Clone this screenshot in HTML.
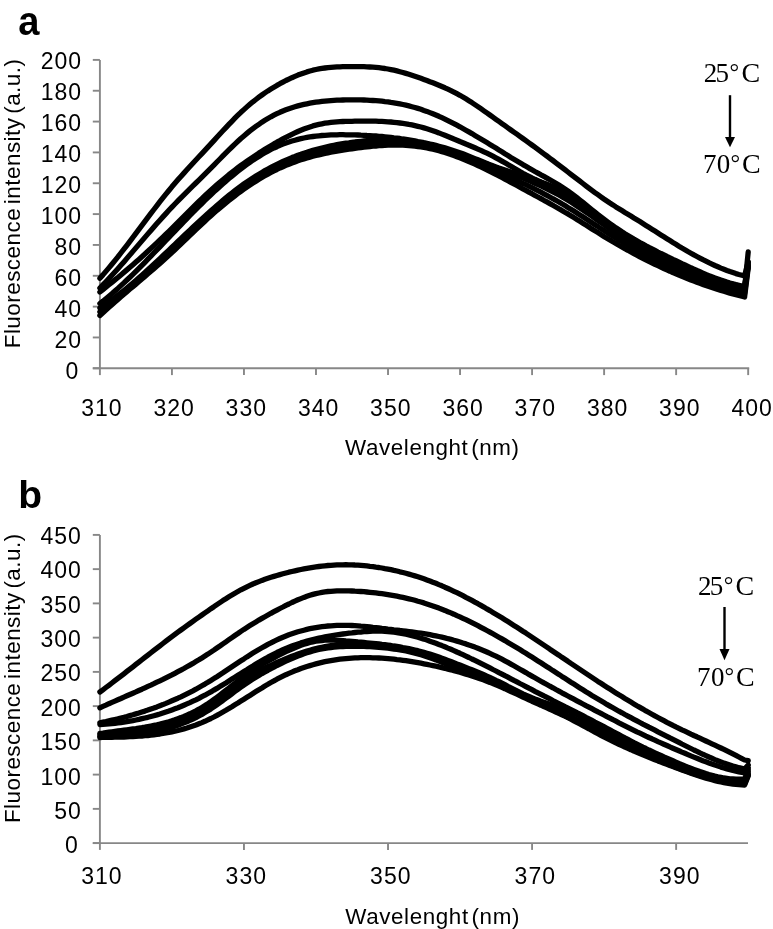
<!DOCTYPE html><html><head><meta charset="utf-8"><style>html,body{margin:0;padding:0;background:#fff;}svg{display:block;will-change:transform}.t{font-family:'Liberation Sans',sans-serif;font-size:23px;letter-spacing:1px;fill:#000}.ti{font-family:'Liberation Sans',sans-serif;font-size:23px;fill:#000}.tx{font-family:'Liberation Sans',sans-serif;font-size:22.4px;letter-spacing:0.6px;word-spacing:-4px;fill:#000}.ty{font-family:'Liberation Sans',sans-serif;font-size:22.4px;letter-spacing:0.5px;word-spacing:-3px;fill:#000}.s{font-family:'Liberation Serif',serif;font-size:27px;fill:#000}.lab{font-family:'Liberation Sans',sans-serif;font-weight:bold;font-size:39px;fill:#000}</style></head><body>
<svg width="773" height="929" viewBox="0 0 773 929">
<rect width="773" height="929" fill="#fff"/>
<text transform="translate(18.3,35) scale(0.93,1)" x="0" y="0" class="lab" style="font-size:41px">a</text>
<line x1="99.9" y1="59.9" x2="99.9" y2="368.3" stroke="#878787" stroke-width="1.9"/>
<line x1="92.8" y1="368.30" x2="99.9" y2="368.30" stroke="#878787" stroke-width="1.9"/>
<line x1="92.8" y1="337.46" x2="99.9" y2="337.46" stroke="#878787" stroke-width="1.9"/>
<line x1="92.8" y1="306.62" x2="99.9" y2="306.62" stroke="#878787" stroke-width="1.9"/>
<line x1="92.8" y1="275.78" x2="99.9" y2="275.78" stroke="#878787" stroke-width="1.9"/>
<line x1="92.8" y1="244.94" x2="99.9" y2="244.94" stroke="#878787" stroke-width="1.9"/>
<line x1="92.8" y1="214.10" x2="99.9" y2="214.10" stroke="#878787" stroke-width="1.9"/>
<line x1="92.8" y1="183.26" x2="99.9" y2="183.26" stroke="#878787" stroke-width="1.9"/>
<line x1="92.8" y1="152.42" x2="99.9" y2="152.42" stroke="#878787" stroke-width="1.9"/>
<line x1="92.8" y1="121.58" x2="99.9" y2="121.58" stroke="#878787" stroke-width="1.9"/>
<line x1="92.8" y1="90.74" x2="99.9" y2="90.74" stroke="#878787" stroke-width="1.9"/>
<line x1="92.8" y1="59.90" x2="99.9" y2="59.90" stroke="#878787" stroke-width="1.9"/>
<line x1="92.8" y1="368.3" x2="749.2" y2="368.3" stroke="#878787" stroke-width="1.9"/>
<line x1="99.90" y1="368.3" x2="99.90" y2="375.10" stroke="#878787" stroke-width="1.9"/>
<line x1="171.93" y1="368.3" x2="171.93" y2="375.10" stroke="#878787" stroke-width="1.9"/>
<line x1="243.96" y1="368.3" x2="243.96" y2="375.10" stroke="#878787" stroke-width="1.9"/>
<line x1="315.99" y1="368.3" x2="315.99" y2="375.10" stroke="#878787" stroke-width="1.9"/>
<line x1="388.02" y1="368.3" x2="388.02" y2="375.10" stroke="#878787" stroke-width="1.9"/>
<line x1="460.05" y1="368.3" x2="460.05" y2="375.10" stroke="#878787" stroke-width="1.9"/>
<line x1="532.08" y1="368.3" x2="532.08" y2="375.10" stroke="#878787" stroke-width="1.9"/>
<line x1="604.11" y1="368.3" x2="604.11" y2="375.10" stroke="#878787" stroke-width="1.9"/>
<line x1="676.14" y1="368.3" x2="676.14" y2="375.10" stroke="#878787" stroke-width="1.9"/>
<line x1="748.17" y1="368.3" x2="748.17" y2="375.10" stroke="#878787" stroke-width="1.9"/>
<text x="79.19999999999999" y="378.6" text-anchor="end" class="t">0</text>
<text x="82.1" y="347.6" text-anchor="end" class="t">20</text>
<text x="82.1" y="316.6" text-anchor="end" class="t">40</text>
<text x="82.1" y="285.7" text-anchor="end" class="t">60</text>
<text x="82.1" y="254.7" text-anchor="end" class="t">80</text>
<text x="82.1" y="223.7" text-anchor="end" class="t">100</text>
<text x="82.1" y="192.7" text-anchor="end" class="t">120</text>
<text x="82.1" y="161.7" text-anchor="end" class="t">140</text>
<text x="82.1" y="130.8" text-anchor="end" class="t">160</text>
<text x="82.1" y="99.8" text-anchor="end" class="t">180</text>
<text x="82.1" y="68.8" text-anchor="end" class="t">200</text>
<text x="101.9" y="415.5" text-anchor="middle" class="t">310</text>
<text x="174.1" y="415.5" text-anchor="middle" class="t">320</text>
<text x="246.3" y="415.5" text-anchor="middle" class="t">330</text>
<text x="318.6" y="415.5" text-anchor="middle" class="t">340</text>
<text x="390.8" y="415.5" text-anchor="middle" class="t">350</text>
<text x="463.1" y="415.5" text-anchor="middle" class="t">360</text>
<text x="535.3" y="415.5" text-anchor="middle" class="t">370</text>
<text x="607.6" y="415.5" text-anchor="middle" class="t">380</text>
<text x="679.8" y="415.5" text-anchor="middle" class="t">390</text>
<text x="752.1" y="415.5" text-anchor="middle" class="t">400</text>
<text x="345" y="454.8" class="tx">Wavelenght (nm)</text>
<text transform="translate(19.8,348.3) rotate(-90)" x="0" y="0" class="ty">Fluorescence intensity (a.u.)</text>
<text x="703.8" y="81.5" style="font-family:'Liberation Serif',serif;font-size:27px">2</text>
<text x="715.6" y="81.5" style="font-family:'Liberation Serif',serif;font-size:27px">5</text>
<text x="729.6" y="79.5" style="font-family:'Liberation Serif',serif;font-size:24px">°</text>
<text x="741.4" y="81.6" style="font-family:'Liberation Serif',serif;font-size:28px">C</text>
<text x="703.0" y="173.0" style="font-family:'Liberation Serif',serif;font-size:27px">7</text>
<text x="716.8" y="173.0" style="font-family:'Liberation Serif',serif;font-size:27px">0</text>
<text x="730.5" y="171.2" style="font-family:'Liberation Serif',serif;font-size:24px">°</text>
<text x="742.0" y="173.0" style="font-family:'Liberation Serif',serif;font-size:28px">C</text>
<line x1="730" y1="95.2" x2="730" y2="139" stroke="#000" stroke-width="2.4"/>
<path d="M725 137 L735 137 L730 147.3 Z" fill="#000"/>
<g fill="none" stroke="#000" stroke-width="5.3" stroke-linecap="round" stroke-linejoin="round">
<path d="M99.9 278.2 L102.9 274.9 L105.9 271.4 L108.9 267.9 L111.9 264.3 L114.9 260.6 L117.9 256.9 L120.9 253.0 L123.9 249.2 L126.9 245.3 L129.9 241.3 L132.9 237.4 L135.9 233.4 L138.9 229.4 L141.9 225.4 L144.9 221.4 L147.9 217.4 L150.9 213.4 L153.9 209.5 L156.9 205.6 L159.9 201.7 L162.9 197.9 L165.9 194.2 L168.9 190.5 L171.9 186.8 L174.9 183.3 L177.9 179.8 L180.9 176.4 L183.9 173.1 L186.9 169.8 L189.9 166.5 L192.9 163.2 L195.9 160.0 L198.9 156.8 L201.9 153.6 L204.9 150.4 L207.9 147.1 L210.9 143.9 L213.9 140.6 L216.9 137.3 L219.9 134.0 L222.9 130.8 L225.9 127.6 L228.9 124.4 L231.9 121.3 L234.9 118.2 L237.9 115.2 L240.9 112.3 L243.9 109.6 L246.9 106.9 L249.9 104.3 L252.9 101.8 L255.9 99.5 L258.9 97.2 L261.9 95.0 L264.9 92.9 L267.9 90.9 L270.9 89.0 L273.9 87.2 L276.9 85.4 L279.9 83.7 L282.9 82.1 L285.9 80.5 L288.9 79.1 L291.9 77.7 L294.9 76.4 L297.9 75.1 L300.9 74.0 L303.9 72.9 L306.9 71.9 L309.9 71.0 L312.9 70.2 L315.9 69.5 L318.9 68.9 L321.9 68.4 L324.9 68.0 L327.9 67.6 L330.9 67.3 L333.9 67.1 L336.9 66.9 L339.9 66.8 L342.9 66.7 L345.9 66.6 L348.9 66.6 L351.9 66.6 L354.9 66.6 L357.9 66.6 L360.9 66.7 L363.9 66.7 L366.9 66.8 L369.9 67.0 L372.9 67.2 L375.9 67.4 L378.9 67.7 L381.9 68.1 L384.9 68.5 L387.9 69.0 L390.9 69.6 L393.9 70.2 L396.9 70.9 L399.9 71.7 L402.9 72.5 L405.9 73.4 L408.9 74.3 L411.9 75.3 L414.9 76.3 L417.9 77.3 L420.9 78.3 L423.9 79.4 L426.9 80.5 L429.9 81.7 L432.9 82.8 L435.9 84.0 L438.9 85.2 L441.9 86.5 L444.9 87.8 L447.9 89.2 L450.9 90.6 L453.9 92.1 L456.9 93.7 L459.9 95.3 L462.9 97.0 L465.9 98.8 L468.9 100.7 L471.9 102.6 L474.9 104.6 L477.9 106.6 L480.9 108.7 L483.9 110.8 L486.9 112.9 L489.9 115.0 L492.9 117.1 L495.9 119.3 L498.9 121.4 L501.9 123.6 L504.9 125.7 L507.9 127.8 L510.9 130.0 L513.9 132.1 L516.9 134.2 L519.9 136.4 L522.9 138.5 L525.9 140.7 L528.9 142.8 L531.9 145.0 L534.9 147.2 L537.9 149.4 L540.9 151.6 L543.9 153.8 L546.9 156.0 L549.9 158.3 L552.9 160.5 L555.9 162.8 L558.9 165.1 L561.9 167.4 L564.9 169.7 L567.9 172.0 L570.9 174.3 L573.9 176.6 L576.9 178.9 L579.9 181.2 L582.9 183.5 L585.9 185.8 L588.9 188.1 L591.9 190.3 L594.9 192.6 L597.9 194.7 L600.9 196.9 L603.9 199.0 L606.9 201.0 L609.9 203.0 L612.9 204.9 L615.9 206.9 L618.9 208.7 L621.9 210.6 L624.9 212.5 L627.9 214.3 L630.9 216.1 L633.9 218.0 L636.9 219.8 L639.9 221.6 L642.9 223.5 L645.9 225.4 L648.9 227.3 L651.9 229.2 L654.9 231.1 L657.9 233.0 L660.9 234.9 L663.9 236.8 L666.9 238.7 L669.9 240.6 L672.9 242.5 L675.9 244.3 L678.9 246.2 L681.9 248.0 L684.9 249.7 L687.9 251.5 L690.9 253.2 L693.9 254.9 L696.9 256.5 L699.9 258.1 L702.9 259.7 L705.9 261.2 L708.9 262.7 L711.9 264.1 L714.9 265.5 L717.9 266.8 L720.9 268.1 L723.9 269.3 L726.9 270.5 L729.9 271.6 L732.9 272.6 L735.9 273.6 L738.9 274.5 L741.9 275.3 L744.6 276.0 L748.2 262.0"/>
<path d="M99.9 288.0 L102.9 284.9 L105.9 281.8 L108.9 278.6 L111.9 275.3 L114.9 272.0 L117.9 268.7 L120.9 265.3 L123.9 261.9 L126.9 258.4 L129.9 254.9 L132.9 251.4 L135.9 247.9 L138.9 244.4 L141.9 240.9 L144.9 237.4 L147.9 233.9 L150.9 230.5 L153.9 227.0 L156.9 223.6 L159.9 220.2 L162.9 216.9 L165.9 213.6 L168.9 210.3 L171.9 207.1 L174.9 204.0 L177.9 200.9 L180.9 197.8 L183.9 194.8 L186.9 191.8 L189.9 188.9 L192.9 185.9 L195.9 183.0 L198.9 180.1 L201.9 177.1 L204.9 174.1 L207.9 171.1 L210.9 168.1 L213.9 165.1 L216.9 162.0 L219.9 159.0 L222.9 155.9 L225.9 152.9 L228.9 149.9 L231.9 147.0 L234.9 144.1 L237.9 141.3 L240.9 138.5 L243.9 135.9 L246.9 133.4 L249.9 130.9 L252.9 128.6 L255.9 126.4 L258.9 124.3 L261.9 122.2 L264.9 120.3 L267.9 118.5 L270.9 116.8 L273.9 115.2 L276.9 113.7 L279.9 112.3 L282.9 111.0 L285.9 109.8 L288.9 108.7 L291.9 107.7 L294.9 106.8 L297.9 105.9 L300.9 105.1 L303.9 104.4 L306.9 103.8 L309.9 103.2 L312.9 102.7 L315.9 102.2 L318.9 101.8 L321.9 101.4 L324.9 101.1 L327.9 100.8 L330.9 100.6 L333.9 100.4 L336.9 100.2 L339.9 100.1 L342.9 100.0 L345.9 99.9 L348.9 99.9 L351.9 99.9 L354.9 99.9 L357.9 99.9 L360.9 99.9 L363.9 100.0 L366.9 100.1 L369.9 100.3 L372.9 100.5 L375.9 100.7 L378.9 100.9 L381.9 101.2 L384.9 101.6 L387.9 101.9 L390.9 102.4 L393.9 102.8 L396.9 103.3 L399.9 103.9 L402.9 104.5 L405.9 105.2 L408.9 105.9 L411.9 106.7 L414.9 107.5 L417.9 108.4 L420.9 109.3 L423.9 110.4 L426.9 111.4 L429.9 112.6 L432.9 113.8 L435.9 115.0 L438.9 116.3 L441.9 117.7 L444.9 119.1 L447.9 120.6 L450.9 122.1 L453.9 123.6 L456.9 125.2 L459.9 126.8 L462.9 128.5 L465.9 130.2 L468.9 131.9 L471.9 133.6 L474.9 135.4 L477.9 137.2 L480.9 139.0 L483.9 140.8 L486.9 142.6 L489.9 144.4 L492.9 146.3 L495.9 148.1 L498.9 150.0 L501.9 151.8 L504.9 153.7 L507.9 155.5 L510.9 157.4 L513.9 159.2 L516.9 161.0 L519.9 162.8 L522.9 164.6 L525.9 166.3 L528.9 168.1 L531.9 169.8 L534.9 171.5 L537.9 173.1 L540.9 174.8 L543.9 176.4 L546.9 178.1 L549.9 179.8 L552.9 181.5 L555.9 183.3 L558.9 185.1 L561.9 187.0 L564.9 189.0 L567.9 191.0 L570.9 193.1 L573.9 195.4 L576.9 197.7 L579.9 200.0 L582.9 202.4 L585.9 204.8 L588.9 207.2 L591.9 209.7 L594.9 212.1 L597.9 214.5 L600.9 216.9 L603.9 219.2 L606.9 221.4 L609.9 223.6 L612.9 225.7 L615.9 227.8 L618.9 229.8 L621.9 231.8 L624.9 233.7 L627.9 235.5 L630.9 237.3 L633.9 239.1 L636.9 240.8 L639.9 242.5 L642.9 244.1 L645.9 245.8 L648.9 247.4 L651.9 248.9 L654.9 250.4 L657.9 252.0 L660.9 253.5 L663.9 254.9 L666.9 256.4 L669.9 257.8 L672.9 259.3 L675.9 260.7 L678.9 262.1 L681.9 263.6 L684.9 265.0 L687.9 266.4 L690.9 267.8 L693.9 269.1 L696.9 270.5 L699.9 271.8 L702.9 273.1 L705.9 274.4 L708.9 275.6 L711.9 276.8 L714.9 277.9 L717.9 279.0 L720.9 280.1 L723.9 281.1 L726.9 282.1 L729.9 283.0 L732.9 283.8 L735.9 284.6 L738.9 285.3 L741.9 286.0 L744.6 286.5 L748.2 266.0"/>
<path d="M99.9 292.0 L102.9 289.6 L105.9 287.2 L108.9 284.8 L111.9 282.4 L114.9 279.9 L117.9 277.5 L120.9 274.9 L123.9 272.4 L126.9 269.9 L129.9 267.3 L132.9 264.7 L135.9 262.0 L138.9 259.4 L141.9 256.7 L144.9 254.0 L147.9 251.2 L150.9 248.5 L153.9 245.7 L156.9 242.8 L159.9 240.0 L162.9 237.1 L165.9 234.2 L168.9 231.3 L171.9 228.4 L174.9 225.4 L177.9 222.4 L180.9 219.4 L183.9 216.4 L186.9 213.4 L189.9 210.4 L192.9 207.4 L195.9 204.4 L198.9 201.5 L201.9 198.6 L204.9 195.7 L207.9 192.9 L210.9 190.1 L213.9 187.4 L216.9 184.8 L219.9 182.2 L222.9 179.7 L225.9 177.2 L228.9 174.7 L231.9 172.4 L234.9 170.0 L237.9 167.7 L240.9 165.5 L243.9 163.3 L246.9 161.2 L249.9 159.1 L252.9 157.1 L255.9 155.1 L258.9 153.1 L261.9 151.2 L264.9 149.3 L267.9 147.5 L270.9 145.7 L273.9 143.9 L276.9 142.2 L279.9 140.6 L282.9 138.9 L285.9 137.3 L288.9 135.8 L291.9 134.3 L294.9 132.9 L297.9 131.5 L300.9 130.2 L303.9 129.0 L306.9 127.9 L309.9 126.9 L312.9 125.9 L315.9 125.1 L318.9 124.4 L321.9 123.8 L324.9 123.2 L327.9 122.8 L330.9 122.4 L333.9 122.1 L336.9 121.9 L339.9 121.7 L342.9 121.5 L345.9 121.4 L348.9 121.3 L351.9 121.3 L354.9 121.2 L357.9 121.2 L360.9 121.1 L363.9 121.1 L366.9 121.1 L369.9 121.1 L372.9 121.1 L375.9 121.2 L378.9 121.3 L381.9 121.4 L384.9 121.6 L387.9 121.8 L390.9 122.0 L393.9 122.3 L396.9 122.6 L399.9 123.0 L402.9 123.4 L405.9 123.8 L408.9 124.4 L411.9 124.9 L414.9 125.6 L417.9 126.3 L420.9 127.0 L423.9 127.9 L426.9 128.8 L429.9 129.7 L432.9 130.7 L435.9 131.8 L438.9 132.9 L441.9 134.1 L444.9 135.3 L447.9 136.5 L450.9 137.7 L453.9 139.0 L456.9 140.2 L459.9 141.5 L462.9 142.7 L465.9 144.0 L468.9 145.2 L471.9 146.5 L474.9 147.8 L477.9 149.1 L480.9 150.4 L483.9 151.8 L486.9 153.2 L489.9 154.7 L492.9 156.2 L495.9 157.8 L498.9 159.4 L501.9 161.1 L504.9 162.8 L507.9 164.6 L510.9 166.3 L513.9 168.1 L516.9 169.8 L519.9 171.6 L522.9 173.3 L525.9 174.9 L528.9 176.4 L531.9 177.9 L534.9 179.3 L537.9 180.6 L540.9 181.9 L543.9 183.1 L546.9 184.3 L549.9 185.5 L552.9 186.8 L555.9 188.1 L558.9 189.4 L561.9 190.9 L564.9 192.4 L567.9 194.1 L570.9 195.9 L573.9 197.9 L576.9 200.0 L579.9 202.2 L582.9 204.5 L585.9 206.8 L588.9 209.1 L591.9 211.5 L594.9 214.0 L597.9 216.3 L600.9 218.7 L603.9 221.0 L606.9 223.3 L609.9 225.5 L612.9 227.6 L615.9 229.7 L618.9 231.7 L621.9 233.6 L624.9 235.5 L627.9 237.4 L630.9 239.2 L633.9 241.0 L636.9 242.7 L639.9 244.4 L642.9 246.0 L645.9 247.6 L648.9 249.2 L651.9 250.7 L654.9 252.3 L657.9 253.7 L660.9 255.2 L663.9 256.7 L666.9 258.1 L669.9 259.5 L672.9 260.9 L675.9 262.3 L678.9 263.7 L681.9 265.1 L684.9 266.5 L687.9 267.8 L690.9 269.1 L693.9 270.4 L696.9 271.7 L699.9 273.0 L702.9 274.2 L705.9 275.4 L708.9 276.6 L711.9 277.7 L714.9 278.8 L717.9 279.9 L720.9 280.9 L723.9 281.9 L726.9 282.8 L729.9 283.6 L732.9 284.4 L735.9 285.2 L738.9 285.9 L741.9 286.5 L744.6 287.0 L748.2 262.0"/>
<path d="M99.9 303.5 L102.9 301.2 L105.9 298.7 L108.9 296.2 L111.9 293.7 L114.9 291.0 L117.9 288.4 L120.9 285.6 L123.9 282.9 L126.9 280.0 L129.9 277.2 L132.9 274.3 L135.9 271.3 L138.9 268.3 L141.9 265.3 L144.9 262.3 L147.9 259.2 L150.9 256.1 L153.9 253.0 L156.9 249.9 L159.9 246.8 L162.9 243.7 L165.9 240.5 L168.9 237.4 L171.9 234.2 L174.9 231.1 L177.9 227.9 L180.9 224.8 L183.9 221.7 L186.9 218.6 L189.9 215.5 L192.9 212.5 L195.9 209.4 L198.9 206.4 L201.9 203.5 L204.9 200.5 L207.9 197.6 L210.9 194.8 L213.9 191.9 L216.9 189.2 L219.9 186.5 L222.9 183.8 L225.9 181.2 L228.9 178.6 L231.9 176.1 L234.9 173.6 L237.9 171.2 L240.9 168.9 L243.9 166.6 L246.9 164.4 L249.9 162.3 L252.9 160.2 L255.9 158.3 L258.9 156.4 L261.9 154.5 L264.9 152.8 L267.9 151.1 L270.9 149.5 L273.9 148.0 L276.9 146.7 L279.9 145.3 L282.9 144.1 L285.9 143.0 L288.9 142.0 L291.9 141.0 L294.9 140.2 L297.9 139.4 L300.9 138.7 L303.9 138.0 L306.9 137.4 L309.9 136.9 L312.9 136.5 L315.9 136.1 L318.9 135.8 L321.9 135.5 L324.9 135.3 L327.9 135.1 L330.9 134.9 L333.9 134.8 L336.9 134.8 L339.9 134.7 L342.9 134.7 L345.9 134.8 L348.9 134.8 L351.9 134.9 L354.9 134.9 L357.9 135.0 L360.9 135.2 L363.9 135.3 L366.9 135.5 L369.9 135.6 L372.9 135.8 L375.9 136.0 L378.9 136.3 L381.9 136.5 L384.9 136.8 L387.9 137.1 L390.9 137.4 L393.9 137.8 L396.9 138.1 L399.9 138.5 L402.9 139.0 L405.9 139.4 L408.9 139.9 L411.9 140.4 L414.9 140.9 L417.9 141.5 L420.9 142.0 L423.9 142.7 L426.9 143.3 L429.9 144.0 L432.9 144.7 L435.9 145.4 L438.9 146.2 L441.9 147.0 L444.9 147.9 L447.9 148.8 L450.9 149.7 L453.9 150.7 L456.9 151.7 L459.9 152.7 L462.9 153.8 L465.9 155.0 L468.9 156.2 L471.9 157.4 L474.9 158.6 L477.9 159.8 L480.9 161.0 L483.9 162.2 L486.9 163.4 L489.9 164.6 L492.9 165.8 L495.9 166.9 L498.9 168.0 L501.9 169.0 L504.9 170.0 L507.9 171.0 L510.9 172.0 L513.9 173.0 L516.9 173.9 L519.9 174.9 L522.9 175.9 L525.9 176.9 L528.9 177.9 L531.9 178.9 L534.9 180.0 L537.9 181.1 L540.9 182.3 L543.9 183.5 L546.9 184.8 L549.9 186.2 L552.9 187.6 L555.9 189.1 L558.9 190.7 L561.9 192.4 L564.9 194.2 L567.9 196.0 L570.9 198.0 L573.9 200.1 L576.9 202.2 L579.9 204.4 L582.9 206.7 L585.9 209.0 L588.9 211.4 L591.9 213.7 L594.9 216.1 L597.9 218.4 L600.9 220.7 L603.9 223.0 L606.9 225.2 L609.9 227.4 L612.9 229.5 L615.9 231.5 L618.9 233.5 L621.9 235.5 L624.9 237.4 L627.9 239.3 L630.9 241.1 L633.9 242.9 L636.9 244.7 L639.9 246.4 L642.9 248.0 L645.9 249.7 L648.9 251.3 L651.9 252.9 L654.9 254.4 L657.9 255.9 L660.9 257.4 L663.9 258.8 L666.9 260.2 L669.9 261.6 L672.9 263.0 L675.9 264.4 L678.9 265.7 L681.9 267.0 L684.9 268.3 L687.9 269.5 L690.9 270.8 L693.9 272.0 L696.9 273.2 L699.9 274.3 L702.9 275.5 L705.9 276.6 L708.9 277.7 L711.9 278.7 L714.9 279.7 L717.9 280.7 L720.9 281.7 L723.9 282.6 L726.9 283.5 L729.9 284.4 L732.9 285.2 L735.9 286.0 L738.9 286.7 L741.9 287.4 L744.6 288.0 L748.2 252.0"/>
<path d="M99.9 308.0 L102.9 306.1 L105.9 304.0 L108.9 301.9 L111.9 299.7 L114.9 297.5 L117.9 295.2 L120.9 292.9 L123.9 290.5 L126.9 288.0 L129.9 285.5 L132.9 283.0 L135.9 280.4 L138.9 277.8 L141.9 275.1 L144.9 272.5 L147.9 269.7 L150.9 267.0 L153.9 264.2 L156.9 261.4 L159.9 258.6 L162.9 255.8 L165.9 252.9 L168.9 250.1 L171.9 247.2 L174.9 244.4 L177.9 241.5 L180.9 238.6 L183.9 235.8 L186.9 232.9 L189.9 230.1 L192.9 227.3 L195.9 224.5 L198.9 221.7 L201.9 218.9 L204.9 216.2 L207.9 213.4 L210.9 210.8 L213.9 208.1 L216.9 205.5 L219.9 202.9 L222.9 200.4 L225.9 197.9 L228.9 195.4 L231.9 193.0 L234.9 190.7 L237.9 188.4 L240.9 186.2 L243.9 184.0 L246.9 181.9 L249.9 179.9 L252.9 177.9 L255.9 176.0 L258.9 174.2 L261.9 172.4 L264.9 170.6 L267.9 169.0 L270.9 167.4 L273.9 165.8 L276.9 164.3 L279.9 162.9 L282.9 161.5 L285.9 160.2 L288.9 158.9 L291.9 157.6 L294.9 156.5 L297.9 155.3 L300.9 154.3 L303.9 153.2 L306.9 152.3 L309.9 151.3 L312.9 150.4 L315.9 149.6 L318.9 148.8 L321.9 148.0 L324.9 147.3 L327.9 146.6 L330.9 145.9 L333.9 145.3 L336.9 144.7 L339.9 144.2 L342.9 143.7 L345.9 143.2 L348.9 142.8 L351.9 142.3 L354.9 142.0 L357.9 141.6 L360.9 141.3 L363.9 141.0 L366.9 140.7 L369.9 140.5 L372.9 140.3 L375.9 140.1 L378.9 140.0 L381.9 139.9 L384.9 139.9 L387.9 139.9 L390.9 139.9 L393.9 140.0 L396.9 140.2 L399.9 140.3 L402.9 140.5 L405.9 140.8 L408.9 141.1 L411.9 141.5 L414.9 141.9 L417.9 142.4 L420.9 142.9 L423.9 143.5 L426.9 144.1 L429.9 144.7 L432.9 145.5 L435.9 146.2 L438.9 147.1 L441.9 147.9 L444.9 148.8 L447.9 149.7 L450.9 150.7 L453.9 151.7 L456.9 152.7 L459.9 153.8 L462.9 154.9 L465.9 156.0 L468.9 157.1 L471.9 158.2 L474.9 159.4 L477.9 160.5 L480.9 161.7 L483.9 162.9 L486.9 164.0 L489.9 165.2 L492.9 166.4 L495.9 167.5 L498.9 168.7 L501.9 169.9 L504.9 171.0 L507.9 172.2 L510.9 173.3 L513.9 174.5 L516.9 175.7 L519.9 176.9 L522.9 178.1 L525.9 179.3 L528.9 180.6 L531.9 181.9 L534.9 183.2 L537.9 184.5 L540.9 185.9 L543.9 187.3 L546.9 188.8 L549.9 190.3 L552.9 191.8 L555.9 193.4 L558.9 195.0 L561.9 196.7 L564.9 198.5 L567.9 200.3 L570.9 202.1 L573.9 204.0 L576.9 206.0 L579.9 208.0 L582.9 210.0 L585.9 212.1 L588.9 214.1 L591.9 216.2 L594.9 218.4 L597.9 220.5 L600.9 222.6 L603.9 224.7 L606.9 226.9 L609.9 229.0 L612.9 231.0 L615.9 233.1 L618.9 235.2 L621.9 237.2 L624.9 239.1 L627.9 241.1 L630.9 243.0 L633.9 244.9 L636.9 246.7 L639.9 248.5 L642.9 250.2 L645.9 251.9 L648.9 253.5 L651.9 255.1 L654.9 256.6 L657.9 258.1 L660.9 259.5 L663.9 261.0 L666.9 262.4 L669.9 263.7 L672.9 265.1 L675.9 266.4 L678.9 267.7 L681.9 269.0 L684.9 270.3 L687.9 271.5 L690.9 272.7 L693.9 273.9 L696.9 275.1 L699.9 276.3 L702.9 277.4 L705.9 278.5 L708.9 279.6 L711.9 280.6 L714.9 281.7 L717.9 282.7 L720.9 283.6 L723.9 284.6 L726.9 285.5 L729.9 286.3 L732.9 287.2 L735.9 288.0 L738.9 288.7 L741.9 289.4 L744.6 290.1 L748.2 264.0"/>
<path d="M99.9 311.9 L102.9 309.7 L105.9 307.5 L108.9 305.2 L111.9 302.9 L114.9 300.5 L117.9 298.1 L120.9 295.6 L123.9 293.1 L126.9 290.5 L129.9 288.0 L132.9 285.4 L135.9 282.7 L138.9 280.1 L141.9 277.4 L144.9 274.7 L147.9 271.9 L150.9 269.2 L153.9 266.4 L156.9 263.6 L159.9 260.8 L162.9 258.0 L165.9 255.2 L168.9 252.4 L171.9 249.6 L174.9 246.7 L177.9 243.9 L180.9 241.1 L183.9 238.3 L186.9 235.5 L189.9 232.7 L192.9 229.9 L195.9 227.1 L198.9 224.3 L201.9 221.6 L204.9 218.8 L207.9 216.1 L210.9 213.5 L213.9 210.8 L216.9 208.2 L219.9 205.6 L222.9 203.0 L225.9 200.5 L228.9 198.1 L231.9 195.7 L234.9 193.3 L237.9 191.0 L240.9 188.7 L243.9 186.6 L246.9 184.5 L249.9 182.4 L252.9 180.4 L255.9 178.5 L258.9 176.7 L261.9 174.9 L264.9 173.2 L267.9 171.5 L270.9 169.9 L273.9 168.4 L276.9 166.9 L279.9 165.5 L282.9 164.1 L285.9 162.8 L288.9 161.6 L291.9 160.4 L294.9 159.2 L297.9 158.1 L300.9 157.1 L303.9 156.1 L306.9 155.2 L309.9 154.3 L312.9 153.4 L315.9 152.6 L318.9 151.8 L321.9 151.1 L324.9 150.4 L327.9 149.7 L330.9 149.1 L333.9 148.5 L336.9 147.9 L339.9 147.4 L342.9 146.9 L345.9 146.4 L348.9 145.9 L351.9 145.5 L354.9 145.1 L357.9 144.7 L360.9 144.4 L363.9 144.0 L366.9 143.7 L369.9 143.5 L372.9 143.2 L375.9 143.0 L378.9 142.8 L381.9 142.7 L384.9 142.6 L387.9 142.5 L390.9 142.5 L393.9 142.5 L396.9 142.6 L399.9 142.7 L402.9 142.9 L405.9 143.1 L408.9 143.4 L411.9 143.7 L414.9 144.0 L417.9 144.5 L420.9 144.9 L423.9 145.5 L426.9 146.1 L429.9 146.7 L432.9 147.4 L435.9 148.2 L438.9 149.0 L441.9 149.8 L444.9 150.7 L447.9 151.7 L450.9 152.7 L453.9 153.7 L456.9 154.8 L459.9 155.9 L462.9 157.0 L465.9 158.1 L468.9 159.3 L471.9 160.5 L474.9 161.8 L477.9 163.0 L480.9 164.3 L483.9 165.6 L486.9 166.9 L489.9 168.2 L492.9 169.6 L495.9 170.9 L498.9 172.2 L501.9 173.6 L504.9 174.9 L507.9 176.3 L510.9 177.7 L513.9 179.0 L516.9 180.4 L519.9 181.9 L522.9 183.3 L525.9 184.7 L528.9 186.2 L531.9 187.7 L534.9 189.2 L537.9 190.7 L540.9 192.2 L543.9 193.8 L546.9 195.4 L549.9 197.0 L552.9 198.7 L555.9 200.3 L558.9 202.0 L561.9 203.8 L564.9 205.5 L567.9 207.4 L570.9 209.2 L573.9 211.1 L576.9 213.0 L579.9 214.9 L582.9 216.8 L585.9 218.8 L588.9 220.7 L591.9 222.7 L594.9 224.7 L597.9 226.6 L600.9 228.6 L603.9 230.5 L606.9 232.5 L609.9 234.4 L612.9 236.3 L615.9 238.1 L618.9 240.0 L621.9 241.8 L624.9 243.6 L627.9 245.4 L630.9 247.2 L633.9 248.9 L636.9 250.6 L639.9 252.3 L642.9 254.0 L645.9 255.6 L648.9 257.2 L651.9 258.8 L654.9 260.4 L657.9 261.9 L660.9 263.4 L663.9 264.9 L666.9 266.3 L669.9 267.7 L672.9 269.1 L675.9 270.4 L678.9 271.7 L681.9 273.0 L684.9 274.2 L687.9 275.4 L690.9 276.6 L693.9 277.7 L696.9 278.8 L699.9 279.9 L702.9 281.0 L705.9 282.0 L708.9 283.0 L711.9 284.0 L714.9 285.0 L717.9 285.9 L720.9 286.8 L723.9 287.7 L726.9 288.6 L729.9 289.5 L732.9 290.3 L735.9 291.2 L738.9 292.0 L741.9 292.8 L744.6 293.5 L748.2 266.0"/>
<path d="M99.9 315.5 L102.9 312.7 L105.9 310.0 L108.9 307.3 L111.9 304.7 L114.9 302.0 L117.9 299.4 L120.9 296.8 L123.9 294.3 L126.9 291.7 L129.9 289.1 L132.9 286.6 L135.9 284.1 L138.9 281.5 L141.9 279.0 L144.9 276.4 L147.9 273.8 L150.9 271.3 L153.9 268.7 L156.9 266.0 L159.9 263.4 L162.9 260.7 L165.9 258.0 L168.9 255.3 L171.9 252.6 L174.9 249.8 L177.9 246.9 L180.9 244.1 L183.9 241.2 L186.9 238.3 L189.9 235.4 L192.9 232.6 L195.9 229.7 L198.9 226.8 L201.9 224.0 L204.9 221.2 L207.9 218.4 L210.9 215.7 L213.9 213.1 L216.9 210.4 L219.9 207.9 L222.9 205.4 L225.9 202.9 L228.9 200.5 L231.9 198.1 L234.9 195.8 L237.9 193.5 L240.9 191.3 L243.9 189.2 L246.9 187.1 L249.9 185.1 L252.9 183.1 L255.9 181.2 L258.9 179.3 L261.9 177.5 L264.9 175.8 L267.9 174.1 L270.9 172.5 L273.9 170.9 L276.9 169.5 L279.9 168.0 L282.9 166.7 L285.9 165.4 L288.9 164.2 L291.9 163.0 L294.9 161.9 L297.9 160.8 L300.9 159.8 L303.9 158.9 L306.9 158.0 L309.9 157.1 L312.9 156.3 L315.9 155.5 L318.9 154.8 L321.9 154.1 L324.9 153.4 L327.9 152.8 L330.9 152.2 L333.9 151.7 L336.9 151.1 L339.9 150.6 L342.9 150.1 L345.9 149.7 L348.9 149.2 L351.9 148.8 L354.9 148.3 L357.9 147.9 L360.9 147.6 L363.9 147.2 L366.9 146.8 L369.9 146.5 L372.9 146.2 L375.9 146.0 L378.9 145.7 L381.9 145.5 L384.9 145.4 L387.9 145.2 L390.9 145.1 L393.9 145.1 L396.9 145.1 L399.9 145.1 L402.9 145.2 L405.9 145.4 L408.9 145.6 L411.9 145.8 L414.9 146.1 L417.9 146.5 L420.9 146.9 L423.9 147.4 L426.9 147.9 L429.9 148.6 L432.9 149.2 L435.9 150.0 L438.9 150.8 L441.9 151.6 L444.9 152.5 L447.9 153.5 L450.9 154.5 L453.9 155.6 L456.9 156.7 L459.9 157.8 L462.9 159.0 L465.9 160.2 L468.9 161.5 L471.9 162.8 L474.9 164.1 L477.9 165.5 L480.9 166.9 L483.9 168.4 L486.9 169.8 L489.9 171.3 L492.9 172.8 L495.9 174.4 L498.9 175.9 L501.9 177.5 L504.9 179.1 L507.9 180.7 L510.9 182.3 L513.9 183.9 L516.9 185.5 L519.9 187.2 L522.9 188.8 L525.9 190.4 L528.9 192.1 L531.9 193.7 L534.9 195.4 L537.9 197.0 L540.9 198.6 L543.9 200.3 L546.9 201.9 L549.9 203.6 L552.9 205.3 L555.9 207.0 L558.9 208.7 L561.9 210.4 L564.9 212.2 L567.9 213.9 L570.9 215.7 L573.9 217.6 L576.9 219.4 L579.9 221.3 L582.9 223.2 L585.9 225.1 L588.9 227.0 L591.9 228.9 L594.9 230.8 L597.9 232.6 L600.9 234.5 L603.9 236.4 L606.9 238.2 L609.9 240.0 L612.9 241.8 L615.9 243.5 L618.9 245.3 L621.9 247.0 L624.9 248.7 L627.9 250.3 L630.9 252.0 L633.9 253.6 L636.9 255.2 L639.9 256.8 L642.9 258.3 L645.9 259.9 L648.9 261.4 L651.9 262.8 L654.9 264.3 L657.9 265.7 L660.9 267.1 L663.9 268.5 L666.9 269.9 L669.9 271.2 L672.9 272.6 L675.9 273.8 L678.9 275.1 L681.9 276.4 L684.9 277.6 L687.9 278.8 L690.9 280.0 L693.9 281.1 L696.9 282.2 L699.9 283.3 L702.9 284.4 L705.9 285.5 L708.9 286.5 L711.9 287.5 L714.9 288.5 L717.9 289.5 L720.9 290.4 L723.9 291.3 L726.9 292.2 L729.9 293.1 L732.9 293.9 L735.9 294.7 L738.9 295.5 L741.9 296.3 L744.6 297.0 L748.2 268.0"/>
</g>
<text x="18.2" y="508" class="lab">b</text>
<line x1="99.9" y1="534.9" x2="99.9" y2="843.1" stroke="#878787" stroke-width="1.9"/>
<line x1="92.8" y1="843.10" x2="99.9" y2="843.10" stroke="#878787" stroke-width="1.9"/>
<line x1="92.8" y1="808.86" x2="99.9" y2="808.86" stroke="#878787" stroke-width="1.9"/>
<line x1="92.8" y1="774.61" x2="99.9" y2="774.61" stroke="#878787" stroke-width="1.9"/>
<line x1="92.8" y1="740.37" x2="99.9" y2="740.37" stroke="#878787" stroke-width="1.9"/>
<line x1="92.8" y1="706.12" x2="99.9" y2="706.12" stroke="#878787" stroke-width="1.9"/>
<line x1="92.8" y1="671.88" x2="99.9" y2="671.88" stroke="#878787" stroke-width="1.9"/>
<line x1="92.8" y1="637.63" x2="99.9" y2="637.63" stroke="#878787" stroke-width="1.9"/>
<line x1="92.8" y1="603.39" x2="99.9" y2="603.39" stroke="#878787" stroke-width="1.9"/>
<line x1="92.8" y1="569.14" x2="99.9" y2="569.14" stroke="#878787" stroke-width="1.9"/>
<line x1="92.8" y1="534.90" x2="99.9" y2="534.90" stroke="#878787" stroke-width="1.9"/>
<line x1="92.8" y1="843.1" x2="748.0" y2="843.1" stroke="#878787" stroke-width="1.9"/>
<line x1="99.90" y1="843.1" x2="99.90" y2="849.90" stroke="#878787" stroke-width="1.9"/>
<line x1="243.96" y1="843.1" x2="243.96" y2="849.90" stroke="#878787" stroke-width="1.9"/>
<line x1="388.02" y1="843.1" x2="388.02" y2="849.90" stroke="#878787" stroke-width="1.9"/>
<line x1="532.08" y1="843.1" x2="532.08" y2="849.90" stroke="#878787" stroke-width="1.9"/>
<line x1="676.14" y1="843.1" x2="676.14" y2="849.90" stroke="#878787" stroke-width="1.9"/>
<text x="78.89999999999999" y="853.4" text-anchor="end" class="t">0</text>
<text x="81.8" y="819.0" text-anchor="end" class="t">50</text>
<text x="81.8" y="784.6" text-anchor="end" class="t">100</text>
<text x="81.8" y="750.2" text-anchor="end" class="t">150</text>
<text x="81.8" y="715.8" text-anchor="end" class="t">200</text>
<text x="81.8" y="681.4" text-anchor="end" class="t">250</text>
<text x="81.8" y="647.0" text-anchor="end" class="t">300</text>
<text x="81.8" y="612.6" text-anchor="end" class="t">350</text>
<text x="81.8" y="578.2" text-anchor="end" class="t">400</text>
<text x="81.8" y="543.8" text-anchor="end" class="t">450</text>
<text x="101.9" y="884" text-anchor="middle" class="t">310</text>
<text x="246.3" y="884" text-anchor="middle" class="t">330</text>
<text x="390.8" y="884" text-anchor="middle" class="t">350</text>
<text x="535.3" y="884" text-anchor="middle" class="t">370</text>
<text x="679.8" y="884" text-anchor="middle" class="t">390</text>
<text x="345.3" y="923.5" class="tx">Wavelenght (nm)</text>
<text transform="translate(19.8,823.1) rotate(-90)" x="0" y="0" class="ty">Fluorescence intensity (a.u.)</text>
<text x="697.9" y="594.7" style="font-family:'Liberation Serif',serif;font-size:27px">2</text>
<text x="709.7" y="594.7" style="font-family:'Liberation Serif',serif;font-size:27px">5</text>
<text x="723.7" y="592.7" style="font-family:'Liberation Serif',serif;font-size:24px">°</text>
<text x="735.5" y="594.8" style="font-family:'Liberation Serif',serif;font-size:28px">C</text>
<text x="697.1" y="686.2" style="font-family:'Liberation Serif',serif;font-size:27px">7</text>
<text x="710.9" y="686.2" style="font-family:'Liberation Serif',serif;font-size:27px">0</text>
<text x="724.6" y="684.4" style="font-family:'Liberation Serif',serif;font-size:24px">°</text>
<text x="736.1" y="686.2" style="font-family:'Liberation Serif',serif;font-size:28px">C</text>
<line x1="724.5" y1="607" x2="724.5" y2="651" stroke="#000" stroke-width="2.4"/>
<path d="M719.5 649 L729.5 649 L724.5 660.2 Z" fill="#000"/>
<g fill="none" stroke="#000" stroke-width="5.3" stroke-linecap="round" stroke-linejoin="round">
<path d="M99.9 692.0 L102.9 689.8 L105.9 687.5 L108.9 685.3 L111.9 683.0 L114.9 680.7 L117.9 678.4 L120.9 676.1 L123.9 673.8 L126.9 671.4 L129.9 669.1 L132.9 666.8 L135.9 664.4 L138.9 662.1 L141.9 659.7 L144.9 657.4 L147.9 655.1 L150.9 652.7 L153.9 650.4 L156.9 648.1 L159.9 645.8 L162.9 643.5 L165.9 641.2 L168.9 638.9 L171.9 636.7 L174.9 634.4 L177.9 632.2 L180.9 630.0 L183.9 627.8 L186.9 625.6 L189.9 623.5 L192.9 621.3 L195.9 619.2 L198.9 617.1 L201.9 615.0 L204.9 612.9 L207.9 610.8 L210.9 608.7 L213.9 606.7 L216.9 604.6 L219.9 602.6 L222.9 600.6 L225.9 598.7 L228.9 596.8 L231.9 595.0 L234.9 593.2 L237.9 591.5 L240.9 589.8 L243.9 588.3 L246.9 586.8 L249.9 585.4 L252.9 584.0 L255.9 582.8 L258.9 581.6 L261.9 580.4 L264.9 579.3 L267.9 578.3 L270.9 577.3 L273.9 576.4 L276.9 575.5 L279.9 574.6 L282.9 573.8 L285.9 573.0 L288.9 572.2 L291.9 571.5 L294.9 570.8 L297.9 570.1 L300.9 569.5 L303.9 568.9 L306.9 568.3 L309.9 567.8 L312.9 567.3 L315.9 566.9 L318.9 566.5 L321.9 566.1 L324.9 565.8 L327.9 565.5 L330.9 565.3 L333.9 565.1 L336.9 564.9 L339.9 564.8 L342.9 564.8 L345.9 564.7 L348.9 564.8 L351.9 564.8 L354.9 565.0 L357.9 565.1 L360.9 565.3 L363.9 565.6 L366.9 565.9 L369.9 566.3 L372.9 566.6 L375.9 567.1 L378.9 567.5 L381.9 568.0 L384.9 568.6 L387.9 569.1 L390.9 569.7 L393.9 570.4 L396.9 571.0 L399.9 571.8 L402.9 572.5 L405.9 573.3 L408.9 574.1 L411.9 575.0 L414.9 575.9 L417.9 576.8 L420.9 577.8 L423.9 578.8 L426.9 579.9 L429.9 581.0 L432.9 582.2 L435.9 583.3 L438.9 584.6 L441.9 585.8 L444.9 587.2 L447.9 588.5 L450.9 589.9 L453.9 591.3 L456.9 592.7 L459.9 594.2 L462.9 595.7 L465.9 597.3 L468.9 598.8 L471.9 600.4 L474.9 602.1 L477.9 603.7 L480.9 605.4 L483.9 607.1 L486.9 608.9 L489.9 610.6 L492.9 612.4 L495.9 614.2 L498.9 616.0 L501.9 617.8 L504.9 619.7 L507.9 621.6 L510.9 623.5 L513.9 625.4 L516.9 627.3 L519.9 629.2 L522.9 631.2 L525.9 633.1 L528.9 635.1 L531.9 637.1 L534.9 639.1 L537.9 641.1 L540.9 643.1 L543.9 645.1 L546.9 647.1 L549.9 649.2 L552.9 651.2 L555.9 653.2 L558.9 655.2 L561.9 657.3 L564.9 659.3 L567.9 661.3 L570.9 663.4 L573.9 665.4 L576.9 667.4 L579.9 669.4 L582.9 671.4 L585.9 673.4 L588.9 675.4 L591.9 677.4 L594.9 679.4 L597.9 681.4 L600.9 683.3 L603.9 685.3 L606.9 687.2 L609.9 689.1 L612.9 691.0 L615.9 692.9 L618.9 694.8 L621.9 696.6 L624.9 698.5 L627.9 700.3 L630.9 702.1 L633.9 703.9 L636.9 705.7 L639.9 707.4 L642.9 709.1 L645.9 710.9 L648.9 712.5 L651.9 714.2 L654.9 715.9 L657.9 717.5 L660.9 719.1 L663.9 720.7 L666.9 722.3 L669.9 723.8 L672.9 725.4 L675.9 726.9 L678.9 728.3 L681.9 729.8 L684.9 731.2 L687.9 732.6 L690.9 734.1 L693.9 735.5 L696.9 736.8 L699.9 738.2 L702.9 739.6 L705.9 741.0 L708.9 742.4 L711.9 743.8 L714.9 745.2 L717.9 746.6 L720.9 748.0 L723.9 749.4 L726.9 750.9 L729.9 752.4 L732.9 753.9 L735.9 755.4 L738.9 757.0 L741.9 758.6 L744.6 760.0 L748.2 760.7"/>
<path d="M99.9 707.8 L102.9 706.4 L105.9 705.1 L108.9 703.7 L111.9 702.4 L114.9 701.1 L117.9 699.8 L120.9 698.5 L123.9 697.1 L126.9 695.8 L129.9 694.5 L132.9 693.2 L135.9 691.9 L138.9 690.5 L141.9 689.2 L144.9 687.8 L147.9 686.4 L150.9 685.1 L153.9 683.7 L156.9 682.2 L159.9 680.8 L162.9 679.4 L165.9 677.9 L168.9 676.4 L171.9 674.9 L174.9 673.3 L177.9 671.7 L180.9 670.1 L183.9 668.5 L186.9 666.8 L189.9 665.1 L192.9 663.4 L195.9 661.6 L198.9 659.8 L201.9 657.9 L204.9 656.0 L207.9 654.1 L210.9 652.1 L213.9 650.1 L216.9 648.0 L219.9 646.0 L222.9 643.9 L225.9 641.8 L228.9 639.7 L231.9 637.6 L234.9 635.5 L237.9 633.5 L240.9 631.4 L243.9 629.4 L246.9 627.5 L249.9 625.6 L252.9 623.7 L255.9 621.9 L258.9 620.1 L261.9 618.4 L264.9 616.7 L267.9 615.0 L270.9 613.3 L273.9 611.7 L276.9 610.1 L279.9 608.5 L282.9 607.0 L285.9 605.4 L288.9 604.0 L291.9 602.5 L294.9 601.1 L297.9 599.8 L300.9 598.6 L303.9 597.4 L306.9 596.3 L309.9 595.3 L312.9 594.4 L315.9 593.6 L318.9 593.0 L321.9 592.4 L324.9 591.9 L327.9 591.5 L330.9 591.3 L333.9 591.1 L336.9 590.9 L339.9 590.8 L342.9 590.8 L345.9 590.9 L348.9 590.9 L351.9 591.0 L354.9 591.2 L357.9 591.3 L360.9 591.5 L363.9 591.7 L366.9 592.0 L369.9 592.3 L372.9 592.6 L375.9 592.9 L378.9 593.3 L381.9 593.7 L384.9 594.1 L387.9 594.6 L390.9 595.1 L393.9 595.6 L396.9 596.2 L399.9 596.8 L402.9 597.4 L405.9 598.1 L408.9 598.8 L411.9 599.5 L414.9 600.3 L417.9 601.2 L420.9 602.0 L423.9 602.9 L426.9 603.9 L429.9 604.9 L432.9 605.9 L435.9 607.0 L438.9 608.1 L441.9 609.3 L444.9 610.4 L447.9 611.7 L450.9 612.9 L453.9 614.2 L456.9 615.6 L459.9 616.9 L462.9 618.3 L465.9 619.7 L468.9 621.2 L471.9 622.7 L474.9 624.2 L477.9 625.7 L480.9 627.3 L483.9 628.9 L486.9 630.5 L489.9 632.1 L492.9 633.8 L495.9 635.5 L498.9 637.2 L501.9 638.9 L504.9 640.6 L507.9 642.4 L510.9 644.2 L513.9 646.0 L516.9 647.8 L519.9 649.6 L522.9 651.5 L525.9 653.3 L528.9 655.2 L531.9 657.1 L534.9 659.0 L537.9 660.9 L540.9 662.8 L543.9 664.8 L546.9 666.7 L549.9 668.6 L552.9 670.6 L555.9 672.5 L558.9 674.4 L561.9 676.4 L564.9 678.3 L567.9 680.2 L570.9 682.2 L573.9 684.1 L576.9 686.0 L579.9 687.9 L582.9 689.8 L585.9 691.7 L588.9 693.5 L591.9 695.4 L594.9 697.2 L597.9 699.0 L600.9 700.8 L603.9 702.6 L606.9 704.4 L609.9 706.1 L612.9 707.8 L615.9 709.5 L618.9 711.2 L621.9 712.8 L624.9 714.5 L627.9 716.1 L630.9 717.7 L633.9 719.3 L636.9 720.9 L639.9 722.5 L642.9 724.1 L645.9 725.6 L648.9 727.2 L651.9 728.7 L654.9 730.2 L657.9 731.8 L660.9 733.3 L663.9 734.8 L666.9 736.3 L669.9 737.9 L672.9 739.4 L675.9 740.9 L678.9 742.4 L681.9 744.0 L684.9 745.5 L687.9 747.0 L690.9 748.5 L693.9 750.0 L696.9 751.4 L699.9 752.9 L702.9 754.3 L705.9 755.6 L708.9 757.0 L711.9 758.3 L714.9 759.6 L717.9 760.8 L720.9 761.9 L723.9 763.1 L726.9 764.1 L729.9 765.1 L732.9 766.1 L735.9 766.9 L738.9 767.7 L741.9 768.4 L744.6 769.0 L748.2 765.0"/>
<path d="M99.9 722.8 L102.9 722.2 L105.9 721.6 L108.9 720.9 L111.9 720.2 L114.9 719.5 L117.9 718.8 L120.9 718.0 L123.9 717.3 L126.9 716.5 L129.9 715.6 L132.9 714.8 L135.9 713.9 L138.9 713.0 L141.9 712.0 L144.9 711.1 L147.9 710.1 L150.9 709.0 L153.9 708.0 L156.9 706.9 L159.9 705.7 L162.9 704.6 L165.9 703.4 L168.9 702.1 L171.9 700.8 L174.9 699.5 L177.9 698.2 L180.9 696.8 L183.9 695.3 L186.9 693.8 L189.9 692.3 L192.9 690.8 L195.9 689.2 L198.9 687.5 L201.9 685.8 L204.9 684.1 L207.9 682.3 L210.9 680.4 L213.9 678.6 L216.9 676.7 L219.9 674.7 L222.9 672.8 L225.9 670.8 L228.9 668.8 L231.9 666.8 L234.9 664.8 L237.9 662.8 L240.9 660.8 L243.9 658.9 L246.9 656.9 L249.9 655.0 L252.9 653.1 L255.9 651.3 L258.9 649.5 L261.9 647.8 L264.9 646.1 L267.9 644.4 L270.9 642.9 L273.9 641.3 L276.9 639.9 L279.9 638.5 L282.9 637.2 L285.9 636.0 L288.9 634.8 L291.9 633.8 L294.9 632.8 L297.9 631.8 L300.9 631.0 L303.9 630.2 L306.9 629.4 L309.9 628.7 L312.9 628.1 L315.9 627.6 L318.9 627.1 L321.9 626.7 L324.9 626.3 L327.9 626.0 L330.9 625.8 L333.9 625.6 L336.9 625.4 L339.9 625.3 L342.9 625.3 L345.9 625.3 L348.9 625.4 L351.9 625.5 L354.9 625.6 L357.9 625.8 L360.9 626.1 L363.9 626.3 L366.9 626.6 L369.9 626.9 L372.9 627.3 L375.9 627.6 L378.9 628.0 L381.9 628.4 L384.9 628.7 L387.9 629.1 L390.9 629.4 L393.9 629.8 L396.9 630.1 L399.9 630.5 L402.9 630.8 L405.9 631.2 L408.9 631.6 L411.9 632.0 L414.9 632.4 L417.9 632.8 L420.9 633.2 L423.9 633.7 L426.9 634.2 L429.9 634.7 L432.9 635.3 L435.9 635.9 L438.9 636.5 L441.9 637.2 L444.9 637.9 L447.9 638.7 L450.9 639.4 L453.9 640.3 L456.9 641.1 L459.9 642.0 L462.9 643.0 L465.9 643.9 L468.9 645.0 L471.9 646.0 L474.9 647.1 L477.9 648.3 L480.9 649.5 L483.9 650.7 L486.9 652.0 L489.9 653.4 L492.9 654.8 L495.9 656.2 L498.9 657.7 L501.9 659.2 L504.9 660.8 L507.9 662.4 L510.9 664.1 L513.9 665.8 L516.9 667.5 L519.9 669.2 L522.9 670.9 L525.9 672.6 L528.9 674.4 L531.9 676.1 L534.9 677.8 L537.9 679.5 L540.9 681.2 L543.9 682.9 L546.9 684.5 L549.9 686.2 L552.9 687.8 L555.9 689.5 L558.9 691.1 L561.9 692.8 L564.9 694.4 L567.9 696.0 L570.9 697.6 L573.9 699.2 L576.9 700.8 L579.9 702.4 L582.9 704.0 L585.9 705.6 L588.9 707.1 L591.9 708.7 L594.9 710.3 L597.9 711.9 L600.9 713.4 L603.9 715.0 L606.9 716.6 L609.9 718.1 L612.9 719.7 L615.9 721.2 L618.9 722.8 L621.9 724.3 L624.9 725.8 L627.9 727.3 L630.9 728.8 L633.9 730.3 L636.9 731.8 L639.9 733.2 L642.9 734.6 L645.9 736.1 L648.9 737.5 L651.9 738.8 L654.9 740.2 L657.9 741.6 L660.9 742.9 L663.9 744.2 L666.9 745.5 L669.9 746.9 L672.9 748.2 L675.9 749.5 L678.9 750.8 L681.9 752.1 L684.9 753.3 L687.9 754.6 L690.9 755.9 L693.9 757.1 L696.9 758.3 L699.9 759.5 L702.9 760.7 L705.9 761.8 L708.9 762.9 L711.9 764.0 L714.9 765.1 L717.9 766.1 L720.9 767.1 L723.9 768.0 L726.9 768.9 L729.9 769.7 L732.9 770.5 L735.9 771.2 L738.9 771.9 L741.9 772.5 L744.6 773.0 L748.2 768.0"/>
<path d="M99.9 724.6 L102.9 724.4 L105.9 724.2 L108.9 723.9 L111.9 723.6 L114.9 723.3 L117.9 722.9 L120.9 722.5 L123.9 722.1 L126.9 721.6 L129.9 721.1 L132.9 720.6 L135.9 720.0 L138.9 719.4 L141.9 718.7 L144.9 718.0 L147.9 717.3 L150.9 716.5 L153.9 715.7 L156.9 714.9 L159.9 714.0 L162.9 713.0 L165.9 712.0 L168.9 711.0 L171.9 709.9 L174.9 708.8 L177.9 707.7 L180.9 706.5 L183.9 705.2 L186.9 703.9 L189.9 702.6 L192.9 701.2 L195.9 699.8 L198.9 698.3 L201.9 696.7 L204.9 695.2 L207.9 693.5 L210.9 691.9 L213.9 690.1 L216.9 688.4 L219.9 686.6 L222.9 684.7 L225.9 682.9 L228.9 681.0 L231.9 679.1 L234.9 677.2 L237.9 675.3 L240.9 673.4 L243.9 671.5 L246.9 669.7 L249.9 667.8 L252.9 666.0 L255.9 664.1 L258.9 662.3 L261.9 660.6 L264.9 658.9 L267.9 657.2 L270.9 655.6 L273.9 654.0 L276.9 652.5 L279.9 651.1 L282.9 649.7 L285.9 648.4 L288.9 647.2 L291.9 646.0 L294.9 644.9 L297.9 643.9 L300.9 642.9 L303.9 642.0 L306.9 641.1 L309.9 640.3 L312.9 639.5 L315.9 638.8 L318.9 638.1 L321.9 637.5 L324.9 636.9 L327.9 636.3 L330.9 635.8 L333.9 635.3 L336.9 634.8 L339.9 634.4 L342.9 634.0 L345.9 633.6 L348.9 633.2 L351.9 632.9 L354.9 632.5 L357.9 632.2 L360.9 632.0 L363.9 631.7 L366.9 631.5 L369.9 631.3 L372.9 631.2 L375.9 631.2 L378.9 631.2 L381.9 631.2 L384.9 631.3 L387.9 631.5 L390.9 631.8 L393.9 632.2 L396.9 632.6 L399.9 633.1 L402.9 633.6 L405.9 634.2 L408.9 634.9 L411.9 635.7 L414.9 636.5 L417.9 637.3 L420.9 638.2 L423.9 639.1 L426.9 640.1 L429.9 641.2 L432.9 642.2 L435.9 643.3 L438.9 644.5 L441.9 645.6 L444.9 646.8 L447.9 648.1 L450.9 649.3 L453.9 650.6 L456.9 652.0 L459.9 653.3 L462.9 654.7 L465.9 656.1 L468.9 657.5 L471.9 659.0 L474.9 660.4 L477.9 661.9 L480.9 663.4 L483.9 664.9 L486.9 666.4 L489.9 667.9 L492.9 669.5 L495.9 671.0 L498.9 672.6 L501.9 674.1 L504.9 675.7 L507.9 677.2 L510.9 678.8 L513.9 680.4 L516.9 681.9 L519.9 683.5 L522.9 685.0 L525.9 686.6 L528.9 688.2 L531.9 689.7 L534.9 691.3 L537.9 692.8 L540.9 694.3 L543.9 695.9 L546.9 697.4 L549.9 698.9 L552.9 700.5 L555.9 702.0 L558.9 703.5 L561.9 705.0 L564.9 706.6 L567.9 708.1 L570.9 709.6 L573.9 711.1 L576.9 712.7 L579.9 714.2 L582.9 715.7 L585.9 717.3 L588.9 718.8 L591.9 720.4 L594.9 722.0 L597.9 723.5 L600.9 725.1 L603.9 726.7 L606.9 728.3 L609.9 729.9 L612.9 731.5 L615.9 733.1 L618.9 734.7 L621.9 736.3 L624.9 737.9 L627.9 739.4 L630.9 741.0 L633.9 742.6 L636.9 744.1 L639.9 745.6 L642.9 747.1 L645.9 748.5 L648.9 750.0 L651.9 751.4 L654.9 752.8 L657.9 754.2 L660.9 755.5 L663.9 756.9 L666.9 758.2 L669.9 759.5 L672.9 760.8 L675.9 762.1 L678.9 763.4 L681.9 764.6 L684.9 765.9 L687.9 767.1 L690.9 768.3 L693.9 769.4 L696.9 770.5 L699.9 771.6 L702.9 772.6 L705.9 773.6 L708.9 774.5 L711.9 775.3 L714.9 776.1 L717.9 776.8 L720.9 777.4 L723.9 778.0 L726.9 778.4 L729.9 778.8 L732.9 779.0 L735.9 779.2 L738.9 779.2 L741.9 779.2 L744.6 779.0 L748.2 770.0"/>
<path d="M99.9 733.5 L102.9 733.1 L105.9 732.6 L108.9 732.2 L111.9 731.8 L114.9 731.4 L117.9 731.0 L120.9 730.6 L123.9 730.2 L126.9 729.8 L129.9 729.4 L132.9 729.0 L135.9 728.6 L138.9 728.1 L141.9 727.7 L144.9 727.2 L147.9 726.6 L150.9 726.0 L153.9 725.4 L156.9 724.8 L159.9 724.1 L162.9 723.3 L165.9 722.5 L168.9 721.7 L171.9 720.8 L174.9 719.8 L177.9 718.7 L180.9 717.6 L183.9 716.4 L186.9 715.1 L189.9 713.8 L192.9 712.3 L195.9 710.8 L198.9 709.2 L201.9 707.4 L204.9 705.6 L207.9 703.7 L210.9 701.6 L213.9 699.5 L216.9 697.3 L219.9 695.0 L222.9 692.7 L225.9 690.3 L228.9 688.0 L231.9 685.6 L234.9 683.2 L237.9 680.9 L240.9 678.6 L243.9 676.4 L246.9 674.3 L249.9 672.2 L252.9 670.2 L255.9 668.3 L258.9 666.4 L261.9 664.6 L264.9 662.8 L267.9 661.1 L270.9 659.4 L273.9 657.8 L276.9 656.2 L279.9 654.7 L282.9 653.2 L285.9 651.7 L288.9 650.3 L291.9 649.0 L294.9 647.7 L297.9 646.5 L300.9 645.3 L303.9 644.3 L306.9 643.4 L309.9 642.5 L312.9 641.8 L315.9 641.2 L318.9 640.8 L321.9 640.5 L324.9 640.2 L327.9 640.1 L330.9 640.1 L333.9 640.1 L336.9 640.3 L339.9 640.4 L342.9 640.6 L345.9 640.9 L348.9 641.1 L351.9 641.4 L354.9 641.7 L357.9 642.0 L360.9 642.2 L363.9 642.5 L366.9 642.8 L369.9 643.1 L372.9 643.4 L375.9 643.7 L378.9 644.0 L381.9 644.4 L384.9 644.7 L387.9 645.1 L390.9 645.5 L393.9 646.0 L396.9 646.4 L399.9 646.9 L402.9 647.5 L405.9 648.0 L408.9 648.6 L411.9 649.3 L414.9 650.0 L417.9 650.7 L420.9 651.5 L423.9 652.3 L426.9 653.2 L429.9 654.1 L432.9 655.1 L435.9 656.1 L438.9 657.1 L441.9 658.2 L444.9 659.3 L447.9 660.4 L450.9 661.5 L453.9 662.7 L456.9 663.9 L459.9 665.0 L462.9 666.2 L465.9 667.4 L468.9 668.6 L471.9 669.8 L474.9 671.0 L477.9 672.2 L480.9 673.5 L483.9 674.8 L486.9 676.1 L489.9 677.4 L492.9 678.8 L495.9 680.3 L498.9 681.7 L501.9 683.2 L504.9 684.7 L507.9 686.3 L510.9 687.8 L513.9 689.3 L516.9 690.8 L519.9 692.3 L522.9 693.8 L525.9 695.2 L528.9 696.5 L531.9 697.8 L534.9 699.0 L537.9 700.1 L540.9 701.2 L543.9 702.2 L546.9 703.2 L549.9 704.2 L552.9 705.2 L555.9 706.2 L558.9 707.3 L561.9 708.3 L564.9 709.5 L567.9 710.7 L570.9 711.9 L573.9 713.3 L576.9 714.7 L579.9 716.1 L582.9 717.6 L585.9 719.2 L588.9 720.8 L591.9 722.4 L594.9 724.0 L597.9 725.6 L600.9 727.3 L603.9 728.9 L606.9 730.6 L609.9 732.2 L612.9 733.8 L615.9 735.4 L618.9 737.0 L621.9 738.5 L624.9 740.1 L627.9 741.6 L630.9 743.2 L633.9 744.7 L636.9 746.2 L639.9 747.6 L642.9 749.1 L645.9 750.6 L648.9 752.0 L651.9 753.4 L654.9 754.8 L657.9 756.2 L660.9 757.6 L663.9 758.9 L666.9 760.2 L669.9 761.6 L672.9 762.8 L675.9 764.1 L678.9 765.4 L681.9 766.6 L684.9 767.8 L687.9 769.0 L690.9 770.1 L693.9 771.2 L696.9 772.3 L699.9 773.3 L702.9 774.3 L705.9 775.2 L708.9 776.0 L711.9 776.8 L714.9 777.6 L717.9 778.3 L720.9 778.9 L723.9 779.4 L726.9 779.9 L729.9 780.3 L732.9 780.6 L735.9 780.9 L738.9 781.0 L741.9 781.0 L744.6 781.0 L748.2 772.0"/>
<path d="M99.9 735.0 L102.9 734.6 L105.9 734.3 L108.9 733.9 L111.9 733.6 L114.9 733.3 L117.9 732.9 L120.9 732.6 L123.9 732.3 L126.9 732.0 L129.9 731.6 L132.9 731.3 L135.9 730.9 L138.9 730.5 L141.9 730.1 L144.9 729.7 L147.9 729.2 L150.9 728.7 L153.9 728.1 L156.9 727.5 L159.9 726.9 L162.9 726.2 L165.9 725.4 L168.9 724.6 L171.9 723.8 L174.9 722.8 L177.9 721.8 L180.9 720.8 L183.9 719.6 L186.9 718.4 L189.9 717.0 L192.9 715.6 L195.9 714.1 L198.9 712.5 L201.9 710.8 L204.9 709.0 L207.9 707.1 L210.9 705.1 L213.9 703.0 L216.9 700.8 L219.9 698.5 L222.9 696.2 L225.9 693.9 L228.9 691.6 L231.9 689.3 L234.9 687.0 L237.9 684.8 L240.9 682.6 L243.9 680.5 L246.9 678.5 L249.9 676.6 L252.9 674.7 L255.9 673.0 L258.9 671.3 L261.9 669.7 L264.9 668.2 L267.9 666.7 L270.9 665.3 L273.9 663.9 L276.9 662.5 L279.9 661.2 L282.9 660.0 L285.9 658.7 L288.9 657.5 L291.9 656.3 L294.9 655.2 L297.9 654.1 L300.9 653.1 L303.9 652.1 L306.9 651.1 L309.9 650.2 L312.9 649.4 L315.9 648.6 L318.9 647.9 L321.9 647.3 L324.9 646.7 L327.9 646.2 L330.9 645.7 L333.9 645.3 L336.9 644.9 L339.9 644.6 L342.9 644.4 L345.9 644.2 L348.9 644.1 L351.9 644.1 L354.9 644.1 L357.9 644.1 L360.9 644.2 L363.9 644.4 L366.9 644.6 L369.9 644.8 L372.9 645.1 L375.9 645.4 L378.9 645.7 L381.9 646.0 L384.9 646.4 L387.9 646.8 L390.9 647.2 L393.9 647.6 L396.9 648.0 L399.9 648.5 L402.9 649.0 L405.9 649.5 L408.9 650.1 L411.9 650.7 L414.9 651.4 L417.9 652.1 L420.9 652.9 L423.9 653.7 L426.9 654.7 L429.9 655.6 L432.9 656.6 L435.9 657.7 L438.9 658.8 L441.9 660.0 L444.9 661.2 L447.9 662.3 L450.9 663.5 L453.9 664.8 L456.9 666.0 L459.9 667.2 L462.9 668.3 L465.9 669.5 L468.9 670.7 L471.9 671.8 L474.9 673.0 L477.9 674.2 L480.9 675.3 L483.9 676.5 L486.9 677.8 L489.9 679.0 L492.9 680.3 L495.9 681.6 L498.9 683.0 L501.9 684.4 L504.9 685.8 L507.9 687.3 L510.9 688.7 L513.9 690.2 L516.9 691.7 L519.9 693.3 L522.9 694.8 L525.9 696.3 L528.9 697.8 L531.9 699.2 L534.9 700.7 L537.9 702.1 L540.9 703.5 L543.9 704.9 L546.9 706.3 L549.9 707.7 L552.9 709.0 L555.9 710.4 L558.9 711.7 L561.9 713.0 L564.9 714.3 L567.9 715.7 L570.9 717.0 L573.9 718.3 L576.9 719.6 L579.9 720.9 L582.9 722.2 L585.9 723.6 L588.9 724.9 L591.9 726.3 L594.9 727.6 L597.9 729.0 L600.9 730.4 L603.9 731.8 L606.9 733.2 L609.9 734.7 L612.9 736.1 L615.9 737.6 L618.9 739.1 L621.9 740.6 L624.9 742.1 L627.9 743.6 L630.9 745.1 L633.9 746.6 L636.9 748.0 L639.9 749.5 L642.9 751.0 L645.9 752.5 L648.9 753.9 L651.9 755.4 L654.9 756.8 L657.9 758.2 L660.9 759.6 L663.9 761.0 L666.9 762.3 L669.9 763.6 L672.9 764.9 L675.9 766.1 L678.9 767.3 L681.9 768.5 L684.9 769.6 L687.9 770.7 L690.9 771.7 L693.9 772.8 L696.9 773.7 L699.9 774.6 L702.9 775.5 L705.9 776.3 L708.9 777.1 L711.9 777.9 L714.9 778.6 L717.9 779.2 L720.9 779.8 L723.9 780.3 L726.9 780.8 L729.9 781.2 L732.9 781.6 L735.9 781.9 L738.9 782.2 L741.9 782.4 L744.6 782.5 L748.2 774.0"/>
<path d="M99.9 736.5 L102.9 736.3 L105.9 736.2 L108.9 736.0 L111.9 735.9 L114.9 735.7 L117.9 735.5 L120.9 735.3 L123.9 735.1 L126.9 734.8 L129.9 734.6 L132.9 734.3 L135.9 734.0 L138.9 733.7 L141.9 733.3 L144.9 732.9 L147.9 732.4 L150.9 731.9 L153.9 731.4 L156.9 730.8 L159.9 730.2 L162.9 729.5 L165.9 728.8 L168.9 727.9 L171.9 727.1 L174.9 726.2 L177.9 725.2 L180.9 724.1 L183.9 722.9 L186.9 721.7 L189.9 720.4 L192.9 719.0 L195.9 717.6 L198.9 716.0 L201.9 714.4 L204.9 712.6 L207.9 710.8 L210.9 708.9 L213.9 706.9 L216.9 704.8 L219.9 702.6 L222.9 700.5 L225.9 698.2 L228.9 696.0 L231.9 693.8 L234.9 691.5 L237.9 689.3 L240.9 687.2 L243.9 685.0 L246.9 683.0 L249.9 681.0 L252.9 679.1 L255.9 677.2 L258.9 675.4 L261.9 673.6 L264.9 671.9 L267.9 670.3 L270.9 668.6 L273.9 667.1 L276.9 665.5 L279.9 664.1 L282.9 662.6 L285.9 661.2 L288.9 659.8 L291.9 658.5 L294.9 657.2 L297.9 656.0 L300.9 654.9 L303.9 653.8 L306.9 652.8 L309.9 651.9 L312.9 651.0 L315.9 650.2 L318.9 649.5 L321.9 648.9 L324.9 648.4 L327.9 647.9 L330.9 647.5 L333.9 647.2 L336.9 646.9 L339.9 646.7 L342.9 646.6 L345.9 646.4 L348.9 646.4 L351.9 646.3 L354.9 646.3 L357.9 646.3 L360.9 646.4 L363.9 646.4 L366.9 646.5 L369.9 646.7 L372.9 646.9 L375.9 647.1 L378.9 647.3 L381.9 647.6 L384.9 647.9 L387.9 648.2 L390.9 648.6 L393.9 649.0 L396.9 649.4 L399.9 649.9 L402.9 650.5 L405.9 651.0 L408.9 651.7 L411.9 652.4 L414.9 653.1 L417.9 653.9 L420.9 654.8 L423.9 655.7 L426.9 656.7 L429.9 657.7 L432.9 658.8 L435.9 659.9 L438.9 661.1 L441.9 662.3 L444.9 663.5 L447.9 664.8 L450.9 666.0 L453.9 667.2 L456.9 668.4 L459.9 669.6 L462.9 670.8 L465.9 671.9 L468.9 673.1 L471.9 674.2 L474.9 675.3 L477.9 676.4 L480.9 677.5 L483.9 678.6 L486.9 679.7 L489.9 680.9 L492.9 682.1 L495.9 683.3 L498.9 684.6 L501.9 685.9 L504.9 687.2 L507.9 688.5 L510.9 689.9 L513.9 691.3 L516.9 692.7 L519.9 694.2 L522.9 695.6 L525.9 697.1 L528.9 698.5 L531.9 700.0 L534.9 701.4 L537.9 702.8 L540.9 704.3 L543.9 705.7 L546.9 707.1 L549.9 708.5 L552.9 710.0 L555.9 711.4 L558.9 712.8 L561.9 714.2 L564.9 715.6 L567.9 717.0 L570.9 718.4 L573.9 719.8 L576.9 721.2 L579.9 722.7 L582.9 724.1 L585.9 725.5 L588.9 726.9 L591.9 728.3 L594.9 729.8 L597.9 731.2 L600.9 732.6 L603.9 734.1 L606.9 735.5 L609.9 737.0 L612.9 738.4 L615.9 739.9 L618.9 741.3 L621.9 742.8 L624.9 744.2 L627.9 745.7 L630.9 747.1 L633.9 748.6 L636.9 750.0 L639.9 751.4 L642.9 752.8 L645.9 754.2 L648.9 755.6 L651.9 757.0 L654.9 758.3 L657.9 759.7 L660.9 761.0 L663.9 762.3 L666.9 763.5 L669.9 764.8 L672.9 766.0 L675.9 767.2 L678.9 768.4 L681.9 769.5 L684.9 770.6 L687.9 771.7 L690.9 772.7 L693.9 773.7 L696.9 774.7 L699.9 775.6 L702.9 776.5 L705.9 777.3 L708.9 778.1 L711.9 778.9 L714.9 779.6 L717.9 780.3 L720.9 780.9 L723.9 781.5 L726.9 782.0 L729.9 782.5 L732.9 782.9 L735.9 783.3 L738.9 783.6 L741.9 783.8 L744.6 784.0 L748.2 775.0"/>
<path d="M99.9 737.5 L102.9 737.4 L105.9 737.4 L108.9 737.3 L111.9 737.3 L114.9 737.2 L117.9 737.1 L120.9 737.1 L123.9 737.0 L126.9 736.8 L129.9 736.7 L132.9 736.6 L135.9 736.4 L138.9 736.2 L141.9 736.0 L144.9 735.7 L147.9 735.5 L150.9 735.2 L153.9 734.8 L156.9 734.4 L159.9 734.0 L162.9 733.5 L165.9 733.0 L168.9 732.5 L171.9 731.8 L174.9 731.2 L177.9 730.5 L180.9 729.7 L183.9 728.9 L186.9 728.0 L189.9 727.0 L192.9 726.0 L195.9 725.0 L198.9 723.8 L201.9 722.6 L204.9 721.3 L207.9 719.9 L210.9 718.5 L213.9 717.0 L216.9 715.4 L219.9 713.7 L222.9 712.0 L225.9 710.3 L228.9 708.5 L231.9 706.7 L234.9 704.8 L237.9 703.0 L240.9 701.1 L243.9 699.2 L246.9 697.3 L249.9 695.4 L252.9 693.5 L255.9 691.6 L258.9 689.7 L261.9 687.9 L264.9 686.0 L267.9 684.3 L270.9 682.5 L273.9 680.9 L276.9 679.2 L279.9 677.7 L282.9 676.2 L285.9 674.7 L288.9 673.4 L291.9 672.1 L294.9 670.8 L297.9 669.7 L300.9 668.5 L303.9 667.5 L306.9 666.5 L309.9 665.6 L312.9 664.7 L315.9 663.9 L318.9 663.1 L321.9 662.4 L324.9 661.7 L327.9 661.1 L330.9 660.6 L333.9 660.1 L336.9 659.6 L339.9 659.2 L342.9 658.9 L345.9 658.6 L348.9 658.3 L351.9 658.1 L354.9 657.9 L357.9 657.8 L360.9 657.7 L363.9 657.7 L366.9 657.7 L369.9 657.7 L372.9 657.8 L375.9 657.9 L378.9 658.0 L381.9 658.2 L384.9 658.4 L387.9 658.6 L390.9 658.9 L393.9 659.2 L396.9 659.6 L399.9 659.9 L402.9 660.3 L405.9 660.7 L408.9 661.2 L411.9 661.7 L414.9 662.2 L417.9 662.7 L420.9 663.2 L423.9 663.8 L426.9 664.4 L429.9 665.0 L432.9 665.6 L435.9 666.2 L438.9 666.9 L441.9 667.6 L444.9 668.3 L447.9 669.1 L450.9 669.8 L453.9 670.6 L456.9 671.4 L459.9 672.3 L462.9 673.2 L465.9 674.1 L468.9 675.0 L471.9 676.0 L474.9 677.0 L477.9 678.0 L480.9 679.1 L483.9 680.1 L486.9 681.3 L489.9 682.4 L492.9 683.6 L495.9 684.9 L498.9 686.1 L501.9 687.4 L504.9 688.7 L507.9 690.1 L510.9 691.5 L513.9 692.8 L516.9 694.2 L519.9 695.6 L522.9 697.0 L525.9 698.4 L528.9 699.8 L531.9 701.2 L534.9 702.5 L537.9 703.9 L540.9 705.2 L543.9 706.6 L546.9 707.9 L549.9 709.3 L552.9 710.6 L555.9 712.0 L558.9 713.4 L561.9 714.8 L564.9 716.2 L567.9 717.7 L570.9 719.2 L573.9 720.8 L576.9 722.4 L579.9 724.0 L582.9 725.6 L585.9 727.2 L588.9 728.8 L591.9 730.5 L594.9 732.1 L597.9 733.7 L600.9 735.3 L603.9 736.9 L606.9 738.4 L609.9 739.9 L612.9 741.4 L615.9 742.9 L618.9 744.3 L621.9 745.7 L624.9 747.1 L627.9 748.4 L630.9 749.7 L633.9 751.1 L636.9 752.3 L639.9 753.6 L642.9 754.9 L645.9 756.1 L648.9 757.3 L651.9 758.5 L654.9 759.7 L657.9 760.9 L660.9 762.0 L663.9 763.2 L666.9 764.3 L669.9 765.5 L672.9 766.6 L675.9 767.7 L678.9 768.8 L681.9 769.9 L684.9 771.0 L687.9 772.1 L690.9 773.2 L693.9 774.2 L696.9 775.2 L699.9 776.2 L702.9 777.2 L705.9 778.1 L708.9 779.0 L711.9 779.8 L714.9 780.6 L717.9 781.3 L720.9 782.0 L723.9 782.6 L726.9 783.2 L729.9 783.7 L732.9 784.1 L735.9 784.4 L738.9 784.7 L741.9 784.9 L744.6 785.0 L748.2 776.0"/>
</g>
</svg></body></html>
